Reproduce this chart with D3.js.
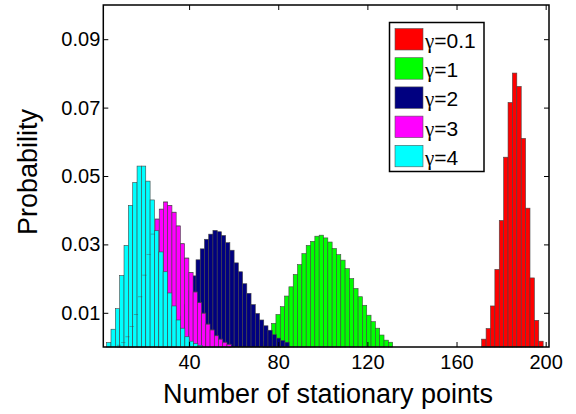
<!DOCTYPE html>
<html lang="en">
	<head>
		<meta charset="utf-8">
		<title>stationary points</title>
		<script src="https://d3js.org/d3.v7.min.js"></script>
		<style type="text/css">
			body { margin: 0; background: white; }
			.axis text {
				font-family: "Liberation Sans", Arial, sans-serif;
				font-size: 20px;
				fill: black;
			}
			.axis line { stroke: black; stroke-width: 1; }
			.axis path { display: none; }
			.title {
				font-family: "Liberation Sans", Arial, sans-serif;
				font-size: 27px;
				fill: black;
				text-anchor: middle;
			}
			.legend text {
				font-family: "Liberation Sans", Arial, sans-serif;
				font-size: 21px;
				fill: black;
			}
			.legend .greek { font-family: "Liberation Serif", serif; }
		</style>
	</head>
	<body>
		<div id="chart"></div>
		<script type="text/javascript">

			//size of the picture
			var w = 576;
			var h = 414;
			var padLeft = 103.3, padRight = 549, padTop = 5, padBottom = 347;

			//series, in the order they are drawn (later ones on top)
			var labels = ["0.1", "1", "2", "3", "4"];
			var colors = ["#ff0000", "#00ff00", "#000080", "#ff00ff", "#00ffff"];

			//left edge of the first bin and bin width, per series
			var binStart = [171.3, 73.15, 26.0, 7.6, 3.0];
			var binWidth = [1.97, 1.94, 1.9, 1.9, 1.95];

			//probabilities
			var gamma01 = [0.0023, 0.0054, 0.012, 0.0227, 0.037, 0.0555, 0.0715, 0.0801,
				0.0762, 0.061, 0.0406, 0.0202, 0.0078, 0.0017];
			var gamma1 = [0.0015, 0.0035, 0.0069, 0.0095, 0.0118, 0.0149, 0.0176, 0.0212,
				0.0241, 0.0273, 0.0297, 0.0309, 0.0324, 0.0327, 0.0319, 0.0307, 0.0288,
				0.027, 0.0254, 0.0229, 0.02, 0.0171, 0.0147, 0.0122, 0.0093, 0.0074,
				0.0055, 0.0035, 0.002, 0.0014];
			var gamma2 = [0.0005, 0.001, 0.002, 0.0035, 0.0058, 0.009, 0.0125, 0.0165,
				0.0208, 0.0255, 0.0287, 0.0315, 0.033, 0.0341, 0.0337, 0.0326, 0.0305,
				0.0283, 0.0246, 0.022, 0.0185, 0.0157, 0.0124, 0.0098, 0.0079, 0.0062,
				0.0049, 0.0036, 0.0026, 0.0019, 0.0014];
			var gamma3 = [0.0005, 0.0013, 0.003, 0.006, 0.0095, 0.0147, 0.021, 0.027,
				0.033, 0.0374, 0.0403, 0.0424, 0.0414, 0.0394, 0.0354, 0.0302, 0.026,
				0.0218, 0.0161, 0.013, 0.0099, 0.0067, 0.005, 0.0033, 0.0023, 0.0014,
				0.0008];
			var gamma4 = [0.0013, 0.0052, 0.0112, 0.0209, 0.0297, 0.0414, 0.0481, 0.0529,
				0.0529, 0.0485, 0.043, 0.034, 0.0278, 0.022, 0.0158, 0.012, 0.0079,
				0.0055, 0.003, 0.0017, 0.001, 0.0005];
			var seriesValues = [gamma01, gamma1, gamma2, gamma3, gamma4];

			//ticks
			var xTicks = [40, 80, 120, 160, 200];
			var yTicks = [0.01, 0.03, 0.05, 0.07, 0.09];

			var xScale = d3.scaleLinear().domain([1.5, 201.5]).range([padLeft, padRight]);
			var yScale = d3.scaleLinear().domain([0, 0.1]).range([padBottom, padTop]);

			var svg = d3.select("#chart")
				.append("svg")
				.attr("width", w)
				.attr("height", h);

			function binLeft(s, i) { return xScale(binStart[s] + i * binWidth[s]); }

			//bars, one group per series
			seriesValues.forEach(function(vals, s) {
				svg.append("g")
					.selectAll("rect")
					.data(vals)
					.enter()
					.append("rect")
					.attr("x", function(d, i) { return binLeft(s, i); })
					.attr("width", function(d, i) { return binLeft(s, i + 1) - binLeft(s, i); })
					.attr("y", function(d) { return yScale(d); })
					.attr("height", function(d) { return padBottom - yScale(d); })
					.style("fill", colors[s])
					.style("stroke", "#444")
					.style("stroke-width", 0.6);
			});

			// the gamma=3 bar tops still show faintly through the gamma=4 bars
			svg.append("g")
				.selectAll("line")
				.data(gamma3)
				.enter()
				.append("line")
				.attr("x1", function(d, i) { return binLeft(3, i); })
				.attr("x2", function(d, i) { return binLeft(3, i + 1); })
				.attr("y1", function(d) { return yScale(d); })
				.attr("y2", function(d) { return yScale(d); })
				.style("stroke", "#444")
				.style("stroke-width", 0.6)
				.style("opacity", 0.7);

			//axes, ticks pointing in
			svg.append("g")
				.attr("class", "axis")
				.attr("transform", "translate(0," + padBottom + ")")
				.call(d3.axisBottom(xScale).tickValues(xTicks).tickSize(-5).tickPadding(8));
			svg.append("g")
				.attr("class", "axis")
				.attr("transform", "translate(0," + padTop + ")")
				.call(d3.axisTop(xScale).tickValues(xTicks).tickSize(-5).tickFormat(""));
			svg.append("g")
				.attr("class", "axis")
				.attr("transform", "translate(" + padLeft + ",0)")
				.call(d3.axisLeft(yScale).tickValues(yTicks).tickSize(-5).tickPadding(3)
					.tickFormat(d3.format(".2f")));
			svg.append("g")
				.attr("class", "axis")
				.attr("transform", "translate(" + padRight + ",0)")
				.call(d3.axisRight(yScale).tickValues(yTicks).tickSize(-5).tickFormat(""));

			//box
			svg.append("rect")
				.attr("x", padLeft)
				.attr("y", padTop)
				.attr("width", padRight - padLeft)
				.attr("height", padBottom - padTop)
				.style("fill", "none")
				.style("stroke", "black")
				.style("stroke-width", 1.5);

			//legend
			var legend = svg.append("g").attr("class", "legend");
			legend.append("rect")
				.attr("x", 389.5).attr("y", 22.5)
				.attr("width", 94.5).attr("height", 149)
				.style("fill", "white")
				.style("stroke", "black")
				.style("stroke-width", 1.5);
			labels.forEach(function(lab, i) {
				legend.append("rect")
					.attr("x", 395).attr("y", 28.5 + i * 29.2)
					.attr("width", 28).attr("height", 21.5)
					.style("fill", colors[i])
					.style("stroke", "#555")
					.style("stroke-width", 0.6);
				var t = legend.append("text")
					.attr("x", 425).attr("y", 48 + i * 29.2);
				t.append("tspan").attr("class", "greek").text("γ");
				t.append("tspan").text("=" + lab);
			});

			//axis titles
			svg.append("text")
				.attr("class", "title")
				.attr("x", 328)
				.attr("y", 403)
				.text("Number of stationary points");

			svg.append("text")
				.attr("class", "title")
				.attr("transform", "translate(37,172) rotate(-90)")
				.text("Probability");

		</script>
	</body>
</html>
